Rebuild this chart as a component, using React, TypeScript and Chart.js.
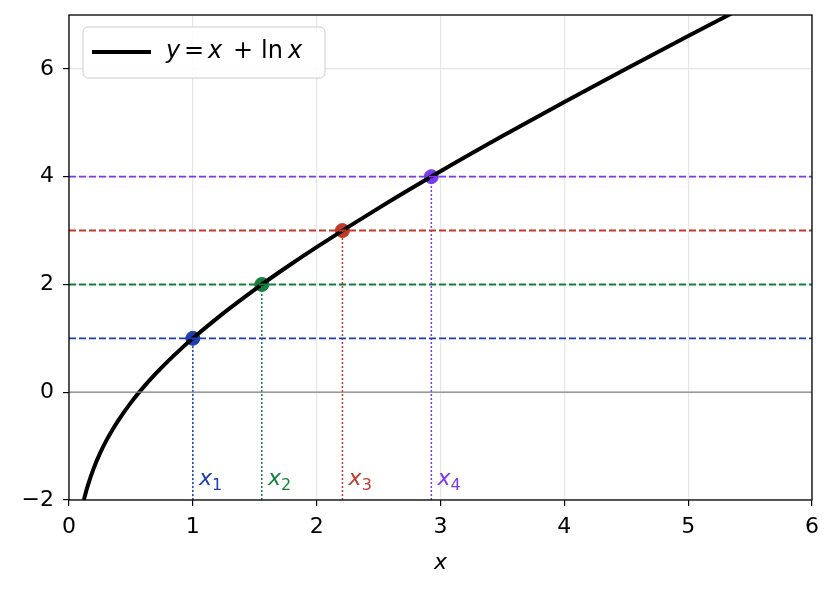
import { useEffect, useRef } from "react";
import Chart from "chart.js/auto";

// curve samples of y = x + ln x
const curveX: number[] = [0.12, 0.13, 0.15, 0.2, 0.25, 0.3, 0.35, 0.4, 0.5, 0.6, 0.7, 0.8, 0.9, 1.0, 1.25, 1.5, 1.75, 2.0, 2.5, 3.0, 3.5, 4.0, 4.5, 5.0, 5.35];
const curveY: number[] = [-2.0, -1.91, -1.747, -1.409, -1.136, -0.904, -0.7, -0.516, -0.193, 0.089, 0.343, 0.577, 0.795, 1.0, 1.473, 1.906, 2.31, 2.693, 3.416, 4.099, 4.753, 5.386, 6.004, 6.609, 7.027];

// marked solutions x_k with x + ln x = k
const levels: number[] = [1, 2, 3, 4];
const rootX: number[] = [1.0, 1.557, 2.208, 2.926];
const rootLabels: string[] = ["1", "2", "3", "4"];
const colors: string[] = ["#1e40af", "#15803d", "#c0392b", "#7c3aed"];

const xTicks: number[] = [0, 1, 2, 3, 4, 5, 6];
const yTicks: number[] = [-2, 0, 2, 4, 6];

const FONT = "'DejaVu Sans', sans-serif";

const framePlugin = {
  id: "frame",
  afterDatasetsDraw(chart: any) {
    const { ctx, chartArea: a, scales } = chart;
    ctx.save();
    // x_k labels
    rootX.forEach((xv, i) => {
      const px = scales.x.getPixelForValue(xv + 0.05);
      const py = scales.y.getPixelForValue(-1.72);
      ctx.fillStyle = colors[i];
      ctx.font = `italic 22px ${FONT}`;
      ctx.textBaseline = "alphabetic";
      ctx.textAlign = "left";
      ctx.fillText("x", px, py);
      const w = ctx.measureText("x").width;
      ctx.font = `16px ${FONT}`;
      ctx.fillText(rootLabels[i], px + w, py + 5);
    });
    // legend
    const lx = 83, ly = 27, lw = 242, lh = 51;
    ctx.beginPath();
    ctx.roundRect(lx, ly, lw, lh, 5);
    ctx.fillStyle = "rgba(255,255,255,0.85)";
    ctx.fill();
    ctx.strokeStyle = "#cccccc";
    ctx.lineWidth = 1;
    ctx.stroke();
    ctx.beginPath();
    ctx.moveTo(92, 52);
    ctx.lineTo(151, 52);
    ctx.strokeStyle = "#000";
    ctx.lineWidth = 4;
    ctx.stroke();
    ctx.fillStyle = "#000";
    ctx.textBaseline = "middle";
    const parts: [string, boolean, number][] = [
      ["y", true, 166],
      ["=", false, 184],
      ["x", true, 208],
      ["+", false, 233],
      ["ln", false, 261],
      ["x", true, 288],
    ];
    parts.forEach(([t, it, tx]) => {
      ctx.font = `${it ? "italic " : ""}24px ${FONT}`;
      ctx.fillText(t, tx, 52);
    });
    // axes frame
    ctx.strokeStyle = "#000";
    ctx.lineWidth = 1.3;
    ctx.strokeRect(a.left, a.top, a.right - a.left, a.bottom - a.top);
    ctx.restore();
  },
};

const App: React.FC = () => {
  const chartRef = useRef<HTMLCanvasElement | null>(null);

  useEffect(() => {
    document.body.style.margin = "0";

    const datasets: any[] = [
      {
        label: "zero",
        data: [{ x: 0, y: 0 }, { x: 6, y: 0 }],
        borderColor: "#808080",
        borderWidth: 1.2,
        pointRadius: 0,
      },
    ];
    levels.forEach((lv, i) => {
      datasets.push({
        label: `h${lv}`,
        data: [{ x: 0, y: lv }, { x: 6, y: lv }],
        borderColor: colors[i],
        borderWidth: 1.9,
        borderDash: [7, 3],
        pointRadius: 0,
      });
      datasets.push({
        label: `v${lv}`,
        data: [{ x: rootX[i], y: -2 }, { x: rootX[i], y: lv }],
        borderColor: colors[i],
        borderWidth: 1.5,
        borderDash: [2, 2],
        pointRadius: 0,
      });
    });
    datasets.push({
      label: "y = x + ln x",
      data: curveX.map((x, i) => ({ x, y: curveY[i] })),
      borderColor: "#000",
      borderWidth: 4,
      pointRadius: 0,
      cubicInterpolationMode: "monotone",
    });
    levels.forEach((lv, i) => {
      datasets.push({
        label: `p${lv}`,
        data: [{ x: rootX[i], y: lv }],
        backgroundColor: colors[i],
        borderColor: colors[i],
        pointRadius: 7,
        showLine: false,
      });
    });

    const chartConfig: any = {
      type: "line",
      data: { datasets },
      options: {
        animation: false,
        responsive: false,
        layout: { padding: { top: 15, right: 25, left: 0, bottom: 0 } },
        plugins: { legend: { display: false }, tooltip: { enabled: false } },
        scales: {
          x: {
            type: "linear",
            min: 0,
            max: 6,
            afterBuildTicks: (s: any) => {
              s.ticks = xTicks.map((v) => ({ value: v }));
            },
            afterFit: (s: any) => {
              s.height = 92;
              s.paddingLeft = 0;
              s.paddingRight = 0;
            },
            grid: { color: "#e6e6e6", tickColor: "#000", tickLength: 6, lineWidth: 1.2 },
            border: { display: false },
            ticks: { color: "#000", font: { family: FONT, size: 22 }, padding: 8, maxRotation: 0 },
            title: { display: true, text: "x", color: "#000", font: { family: FONT, size: 22, style: "italic" }, padding: { top: 0, bottom: 16 } },
          },
          y: {
            type: "linear",
            min: -2,
            max: 7,
            afterBuildTicks: (s: any) => {
              s.ticks = yTicks.map((v) => ({ value: v }));
            },
            afterFit: (s: any) => {
              s.width = 69;
              s.paddingTop = 0;
              s.paddingBottom = 0;
            },
            grid: { color: "#e6e6e6", tickColor: "#000", tickLength: 6, lineWidth: 1.2 },
            border: { display: false },
            ticks: {
              color: "#000",
              font: { family: FONT, size: 22 },
              padding: 9,
              callback: (v: number) => (v < 0 ? "\u2212" + Math.abs(v) : String(v)),
            },
          },
        },
      },
      plugins: [framePlugin],
    };

    const myChart = new Chart(chartRef.current!, chartConfig);
    return () => {
      myChart.destroy();
    };
  }, []);

  return (
    <div style={{ width: 837, height: 592 }}>
      <canvas ref={chartRef} width={837} height={592} />
    </div>
  );
};

export default App;
